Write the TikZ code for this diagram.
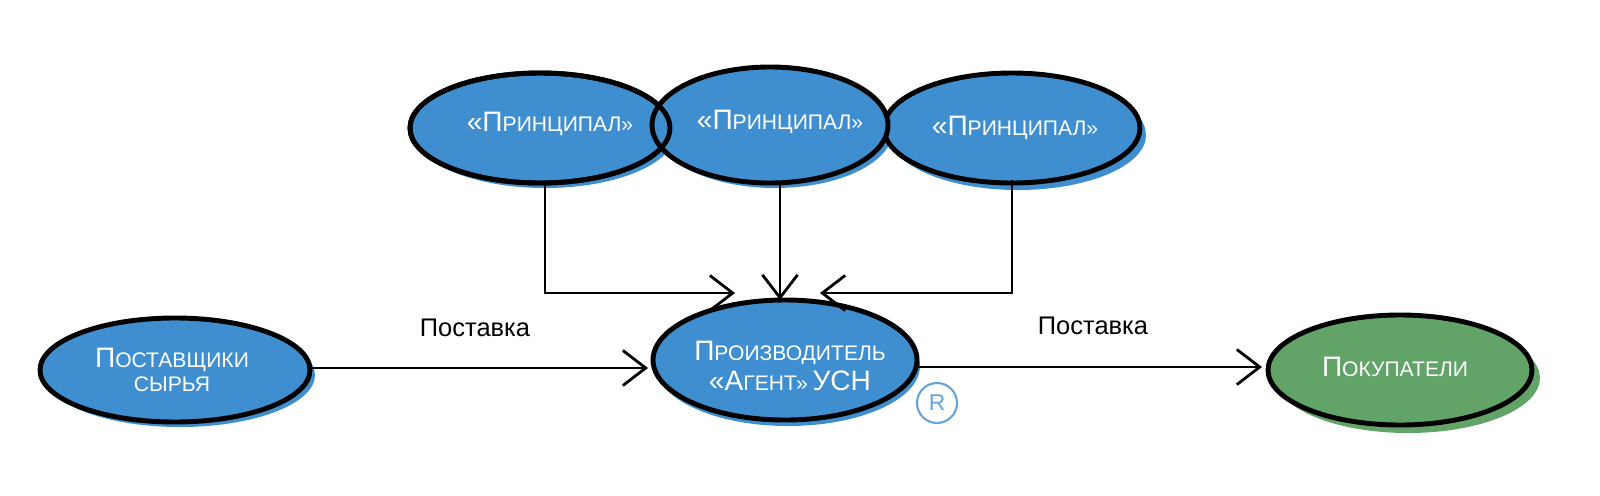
\documentclass[tikz,border=0pt]{standalone}
\usepackage{fontspec}
\setmainfont{Liberation Sans}
\usetikzlibrary{arrows.meta}
\definecolor{eblue}{HTML}{3F8FD0}
\definecolor{egreen}{HTML}{62A468}
\newcommand{\scx}[2]{{\fontsize{16}{20}\selectfont #1}{\fontsize{12}{20}\selectfont #2}}
\tikzset{
  con/.style={line width=1.6pt, -{Straight Barb[length=13pt,width=20pt,line width=1.6pt]}},
  lbl/.style={font=\fontsize{14.5}{18}\selectfont, text=black},
  eline/.style={line width=2.8pt, fill=#1}
}
\begin{document}
\begin{tikzpicture}[x=0.02cm,y=-0.02cm]
\useasboundingbox (0,0) rectangle (1600,495);
% shadows
\fill[eblue] (545,133) ellipse [x radius=130,y radius=55];
\fill[eblue] (775,130) ellipse [x radius=118,y radius=58];
\fill[eblue] (1018,135) ellipse [x radius=128,y radius=55];
\fill[eblue] (180,375) ellipse [x radius=135,y radius=52];
\fill[eblue] (788,366) ellipse [x radius=132,y radius=60];
\fill[egreen] (1408,378) ellipse [x radius=132,y radius=55];
\draw[eline=eblue] (540,128) ellipse [x radius=130,y radius=55];
\draw[eline=eblue] (1012,128) ellipse [x radius=128,y radius=55];
\draw[eline=eblue] (770,125) ellipse [x radius=118,y radius=58];
\draw[line width=2.8pt] (540,128) ellipse [x radius=130,y radius=55];
\draw[eline=eblue] (175,370) ellipse [x radius=135,y radius=52];
\draw[eline=eblue] (785,360) ellipse [x radius=132,y radius=60];
\draw[eline=egreen] (1400,370) ellipse [x radius=132,y radius=55];
\node[text=white] (p1) at (550,124) {\scx{«П}{РИНЦИПАЛ»}};
\node[text=white] (p2) at (780,122) {\scx{«П}{РИНЦИПАЛ»}};
\node[text=white] (p3) at (1015,128) {\scx{«П}{РИНЦИПАЛ»}};
\node[text=white, align=center] (s) at (172,370) {\scx{П}{ОСТАВЩИКИ}\\[2pt]\scx{}{СЫРЬЯ}};
\node[text=white, align=center] (m) at (790,366) {\scx{П}{РОИЗВОДИТЕЛЬ}\\[2pt]\scx{«А}{ГЕНТ»} \scx{УСН}{}};
\node[text=white] (b) at (1395,367) {\scx{П}{ОКУПАТЕЛИ}};
\coordinate (a1) at (545,183); \coordinate (a1c) at (545,293); \coordinate (a1e) at (735,293);
\coordinate (a2) at (780,185); \coordinate (a2e) at (780,300);
\coordinate (a3) at (1012,180); \coordinate (a3c) at (1012,293); \coordinate (a3e) at (820,293);
\coordinate (sx) at (310,368); \coordinate (mx) at (648,368);
\coordinate (mo) at (918,367); \coordinate (bx) at (1262,367);
\draw[con] (a1) -- (a1c) -- (a1e);
\draw[con] (a2) -- (a2e);
\draw[con] (a3) -- (a3c) -- (a3e);
\draw[con] (sx) -- (mx);
\draw[con] (mo) -- (bx);
\node[lbl] (l1) at (475,328) {Поставка};
\node[lbl] (l2) at (1093,326) {Поставка};
\node[circle, draw=eblue!80, line width=1.2pt, text=eblue!80, inner sep=1pt, font=\fontsize{13}{13}\selectfont, minimum size=0.8cm] (r) at (937,403) {R};
\end{tikzpicture}
\end{document}
